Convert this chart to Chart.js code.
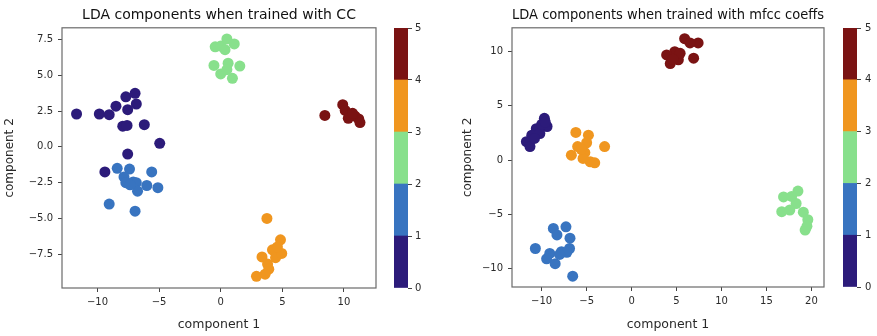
<!DOCTYPE html>
<html>
<head>
<meta charset="utf-8">
<script src="https://cdn.jsdelivr.net/npm/chart.js@4.4.1/dist/chart.umd.min.js"></script>
<style>
  html, body { margin: 0; padding: 0; background: #fff; }
  #wrap { position: relative; width: 877px; height: 336px; overflow: hidden; }
  canvas { position: absolute; top: 0; }
</style>
</head>
<body>
<div id="wrap">
  <canvas id="ccScatter" style="left:0px" width="382" height="336"></canvas>
  <canvas id="ccBar" style="left:390px" width="48" height="336"></canvas>
  <canvas id="mfScatter" style="left:440px" width="390" height="336"></canvas>
  <canvas id="mfBar" style="left:839px" width="38" height="336"></canvas>
</div>
<script>
// ---------- data ----------
const classNames = ["0", "1", "2", "3", "4"];
const classColors = ["#2c1b7a", "#3874c0", "#88e08c", "#f0961f", "#7a1313"];
const colorbarTicks = [0, 1, 2, 3, 4, 5];

// LDA components when trained with CC
const ccClass0 = [[-11.7,2.3],[-9.85,2.3],[-9.05,2.25],[-8.5,2.85],[-7.7,3.5],[-6.95,3.75],[-6.85,3.0],[-7.55,2.6],[-7.95,1.45],[-7.6,1.5],[-6.2,1.55],[-4.95,0.25],[-7.55,-0.5],[-9.4,-1.75]];
const ccClass1 = [[-8.4,-1.5],[-7.4,-1.55],[-5.6,-1.75],[-7.85,-2.1],[-7.7,-2.5],[-7.1,-2.45],[-6.85,-2.5],[-6.0,-2.7],[-5.1,-2.85],[-6.75,-3.1],[-7.35,-2.65],[-9.05,-4.0],[-6.95,-4.5]];
const ccClass2 = [[-0.45,7.0],[0.0,7.05],[0.5,7.55],[1.1,7.2],[0.35,6.8],[-0.55,5.7],[0.6,5.85],[1.55,5.65],[0.0,5.1],[0.95,4.8],[0.5,5.4]];
const ccClass3 = [[3.75,-5.0],[4.85,-6.5],[4.2,-7.2],[3.35,-7.7],[4.45,-7.75],[4.95,-7.45],[4.6,-7.0],[3.8,-8.2],[3.9,-8.55],[3.6,-8.9],[2.9,-9.05]];
const ccClass4 = [[8.45,2.2],[9.9,2.95],[10.1,2.55],[10.5,2.25],[10.9,2.15],[11.2,1.95],[11.3,1.7],[10.35,2.0],[10.7,2.35]];

// LDA components when trained with mfcc coeffs
const mfClass0 = [[-9.7,3.85],[-9.4,3.1],[-10.6,2.9],[-11.1,2.3],[-11.7,1.7],[-11.3,1.25],[-10.2,2.45],[-10.0,3.3],[-10.8,2.0],[-9.6,3.5]];
const mfClass1 = [[-8.7,-6.3],[-7.3,-6.15],[-8.3,-6.9],[-6.85,-7.2],[-6.9,-8.15],[-10.7,-8.15],[-7.8,-8.45],[-9.1,-8.6],[-9.45,-9.1],[-8.5,-9.55],[-6.55,-10.7],[-7.2,-8.5],[-8.0,-8.7]];
const mfClass2 = [[16.7,-4.75],[16.9,-3.4],[18.5,-2.85],[17.8,-3.35],[18.3,-4.0],[19.1,-4.8],[19.6,-5.5],[19.3,-6.45],[17.6,-4.6],[19.5,-6.1]];
const mfClass3 = [[-6.2,2.55],[-4.8,2.3],[-3.0,1.25],[-6.0,1.25],[-6.7,0.45],[-5.2,0.7],[-4.6,-0.15],[-4.1,-0.25],[-5.4,0.15],[-5.0,1.6],[-5.6,1.0]];
const mfClass4 = [[4.8,10.0],[5.9,11.2],[7.4,10.8],[6.9,9.4],[4.3,8.9],[5.2,9.25],[3.9,9.7],[6.5,10.8],[5.4,9.85],[4.6,9.3]];

const ccTitle = "LDA components when trained with CC";
const mfTitle = "LDA components when trained with mfcc coeffs";
const xLabel = "component 1";
const yLabel = "component 2";

// ---------- helpers ----------
const FONT = "'DejaVu Sans', 'Liberation Sans', sans-serif";
const TEXT = "#2a2a2a";
const MINUS = "\u2212";

const frame = {
  id: 'frame',
  afterDatasetsDraw(chart) {
    const a = chart.chartArea, c = chart.ctx;
    c.save();
    c.strokeStyle = '#6a6a6a';
    c.lineWidth = 1.2;
    c.strokeRect(a.left, a.top, a.right - a.left, a.bottom - a.top);
    c.restore();
  }
};

function fmt(decimals) {
  return v => (v < 0 ? MINUS : '') + Math.abs(v).toFixed(decimals);
}

function scatterChart(id, title, classes, cfg) {
  const datasets = classes.map((pts, i) => ({
    label: classNames[i],
    data: pts.map(p => ({ x: p[0], y: p[1] })),
    backgroundColor: classColors[i],
    borderColor: classColors[i],
    borderWidth: 0,
    pointRadius: 5.5,
  }));
  return new Chart(document.getElementById(id), {
    type: 'scatter',
    data: { datasets },
    plugins: [frame],
    options: {
      responsive: false,
      animation: false,
      events: [],
      layout: { padding: { left: cfg.padLeft, right: cfg.padRight, top: 0, bottom: 0 } },
      plugins: {
        legend: { display: false },
        tooltip: { enabled: false },
        title: {
          display: true, text: title, color: '#111', fullSize: false,
          font: { family: FONT, size: 14, weight: 'normal' },
          padding: { top: 7, bottom: 4 }
        }
      },
      scales: {
        x: {
          type: 'linear', min: cfg.xMin, max: cfg.xMax,
          afterFit: s => { s.height = cfg.xAxisH; },
          border: { display: false },
          grid: { drawOnChartArea: false, drawTicks: true, tickLength: 4, color: '#444' },
          ticks: { stepSize: cfg.xStep, includeBounds: false, color: TEXT, padding: 4, maxRotation: 0,
                   font: { family: FONT, size: 10 }, callback: fmt(0) },
          title: { display: true, text: xLabel, color: TEXT, font: { family: FONT, size: 12.5 },
                   padding: { top: 0, bottom: 4 } }
        },
        y: {
          type: 'linear', min: cfg.yMin, max: cfg.yMax,
          afterFit: s => { s.width = cfg.yAxisW; },
          border: { display: false },
          grid: { drawOnChartArea: false, drawTicks: true, tickLength: 4, color: '#444' },
          ticks: { stepSize: cfg.yStep, includeBounds: false, color: TEXT, padding: 5,
                   font: { family: FONT, size: 10 }, callback: fmt(cfg.yDec) },
          title: { display: true, text: yLabel, color: TEXT, font: { family: FONT, size: 12 },
                   padding: { top: 3, bottom: 0 } }
        }
      }
    }
  });
}

function colorbar(id, padTop, padBottom, padLeft, labelPad) {
  const datasets = classColors.map((c, i) => ({
    label: classNames[i],
    data: [colorbarTicks[i + 1] - colorbarTicks[i]],
    backgroundColor: c,
    borderWidth: 0,
    barPercentage: 1.0,
    categoryPercentage: 1.0,
  }));
  return new Chart(document.getElementById(id), {
    type: 'bar',
    data: { labels: [''], datasets },
    options: {
      responsive: false,
      animation: false,
      events: [],
      layout: { padding: { left: padLeft, right: 0, top: padTop, bottom: padBottom } },
      plugins: { legend: { display: false }, tooltip: { enabled: false }, title: { display: false } },
      scales: {
        x: { stacked: true, display: false },
        y: {
          stacked: true, position: 'right', min: colorbarTicks[0], max: colorbarTicks[colorbarTicks.length - 1],
          afterFit: s => { s.width = s.chart.width - padLeft - 14; },
          afterBuildTicks: s => { s.ticks = colorbarTicks.map(v => ({ value: v })); },
          border: { display: false },
          grid: { drawOnChartArea: false, drawTicks: true, tickLength: 4, color: '#444' },
          ticks: { color: TEXT, padding: labelPad, font: { family: FONT, size: 10 }, callback: v => String(v) }
        }
      }
    }
  });
}

scatterChart('ccScatter', ccTitle, [ccClass0, ccClass1, ccClass2, ccClass3, ccClass4], {
  padLeft: 0, padRight: 6, yAxisW: 62, xAxisH: 48,
  xMin: -12.88, xMax: 12.6, yMin: -9.87, yMax: 8.33, xStep: 5, yStep: 2.5, yDec: 1
});
colorbar('ccBar', 28, 48, 4, 3);

scatterChart('mfScatter', mfTitle, [mfClass0, mfClass1, mfClass2, mfClass3, mfClass4], {
  padLeft: 18, padRight: 6, yAxisW: 54, xAxisH: 49,
  xMin: -13.3, xMax: 21.4, yMin: -11.7, yMax: 12.2, xStep: 5, yStep: 5, yDec: 0
});
colorbar('mfBar', 28, 49, 4, 4);
</script>
</body>
</html>
